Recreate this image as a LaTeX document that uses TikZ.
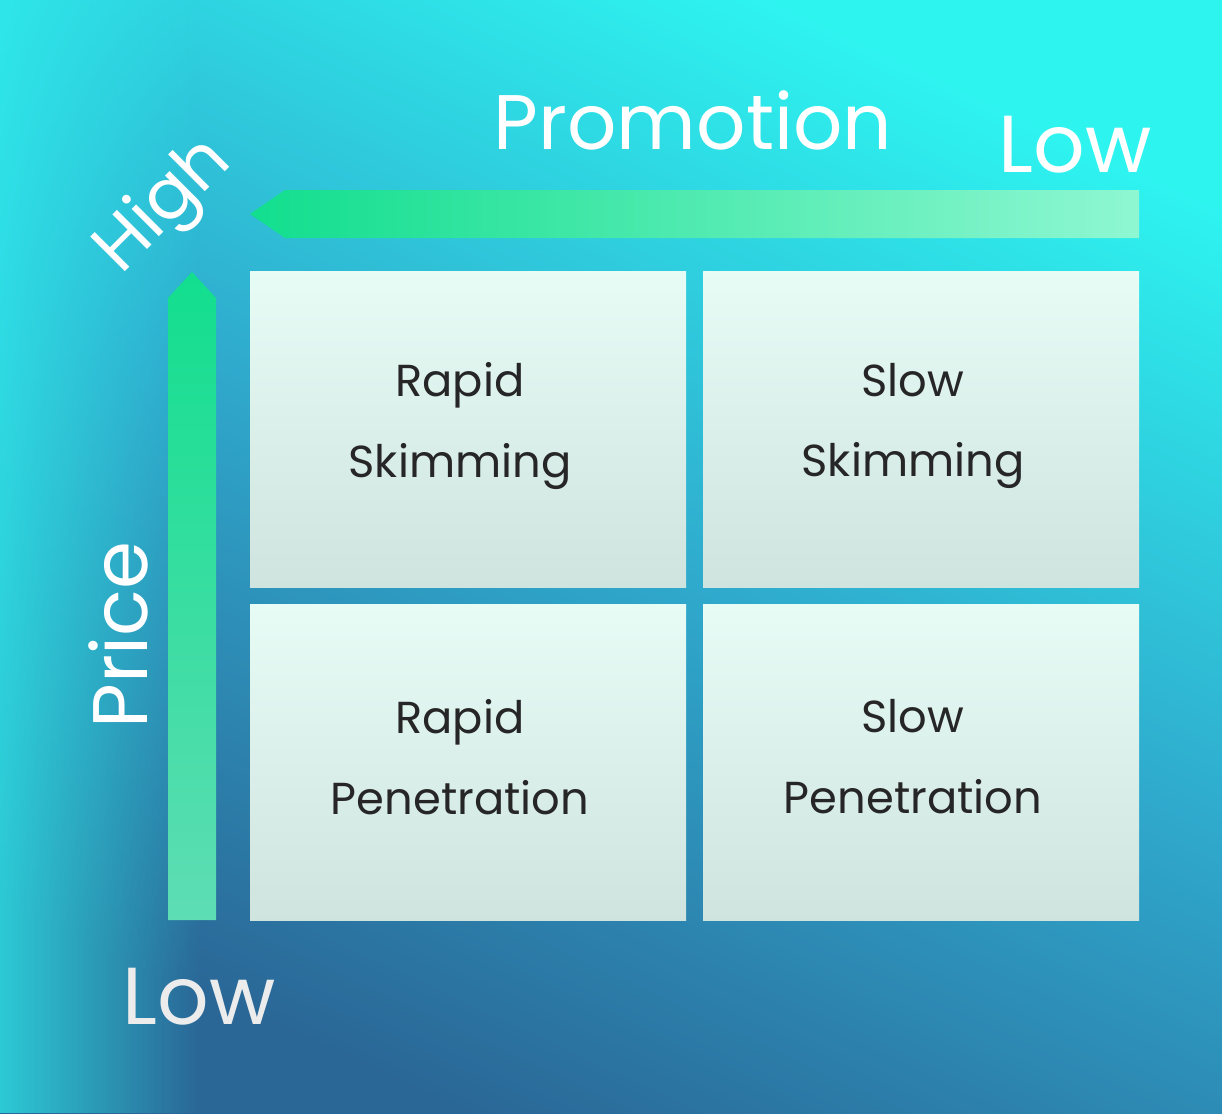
\documentclass[tikz,border=0pt]{standalone}
\usepackage{fontspec}
\setmainfont{Poppins}
\usetikzlibrary{shapes.geometric,fadings}
\definecolor{cyanbg}{HTML}{2EF4F0}
\definecolor{bluebg}{HTML}{2A6696}
\definecolor{midbg}{HTML}{2FA8CC}
\definecolor{boxtop}{HTML}{E8FCF6}
\definecolor{boxbot}{HTML}{CFE3DF}
\definecolor{gdark}{HTML}{12DE8E}
\definecolor{glight}{HTML}{8EF7D2}
\definecolor{glow}{HTML}{5EDDB4}
\begin{document}
\begin{tikzpicture}[x=0.02cm,y=-0.02cm,
  cell/.style={draw=none,top color=boxtop,bottom color=boxbot,minimum width=436*0.02cm,minimum height=316*0.02cm,inner sep=0pt},
  celltxt/.style={align=center,font=\fontsize{25.5}{46}\selectfont,text=black!85},
  lbl/.style={text=white,font=\fontsize{44}{48}\selectfont,inner sep=0pt}]
\useasboundingbox (0,0) rectangle (1222,1113);
\shade[top color=cyanbg,bottom color=bluebg,middle color=midbg,shading angle=-25] (0,0) rectangle (1222,1113);
\fill[cyanbg,path fading=east,opacity=0.7] (0,0) rectangle (200,1113);
% arrows
\shade[left color=gdark,right color=glight] (1139,190) -- (285,190) -- (250,214) -- (285,238) -- (1139,238) -- cycle;
\shade[top color=gdark,bottom color=glow] (168,920) -- (168,298) -- (192,272) -- (216,298) -- (216,920) -- cycle;
% cells
\node[cell] (rs) at (468,429.5) {};
\node[cell] (ss) at (921,429.5) {};
\node[cell] (rp) at (468,762) {};
\node[cell] (sp) at (921,762) {};
\node[celltxt] (t1) at (460,426) {Rapid\\Skimming};
\node[celltxt] (t2) at (913,426) {Slow\\Skimming};
\node[celltxt] (t3) at (460,757) {Rapid\\Penetration};
\node[celltxt] (t4) at (913,757) {Slow\\Penetration};
% labels
\node[lbl] (promo) at (693,120) {Promotion};
\node[lbl,font=\fontsize{46}{50}\selectfont] (lowt) at (1075,145) {Low};
\node[lbl,rotate=45,font=\fontsize{40}{44}\selectfont] (high) at (165,207) {High};
\node[lbl,rotate=90] (price) at (118,635) {Price};
\node[lbl,font=\fontsize{46}{50}\selectfont,text=white!85!gray] (lowb) at (199,997) {Low};
\end{tikzpicture}
\end{document}
